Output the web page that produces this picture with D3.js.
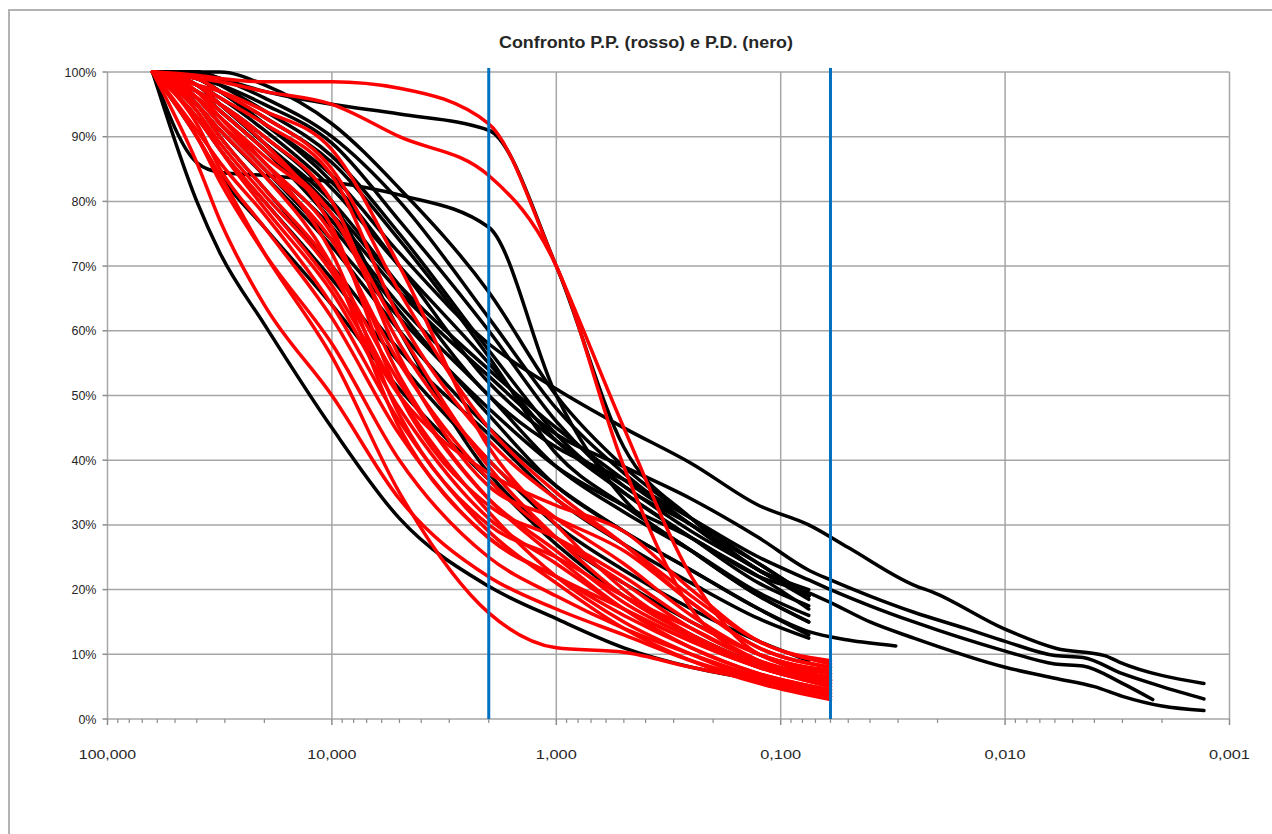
<!DOCTYPE html>
<html>
<head>
<meta charset="utf-8">
<script src="https://cdn.jsdelivr.net/npm/d3@7/dist/d3.min.js"></script>
<style>
  body { margin: 0; background: #fff; }
  svg text { font-family: "Liberation Sans", Arial, sans-serif; fill: #262626; }
</style>
</head>
<body>
<div id="chart"></div>
<script>
// setacci (mm) per P.D. (nero) e P.P. (rosso)
const blackSieves = [63, 40, 31.5, 20, 10, 5, 2, 1, 0.5, 0.25, 0.125, 0.075];
const redSieves = [63, 40, 31.5, 20, 10, 5, 2, 1, 0.5, 0.25, 0.125, 0.06];

// passante % P.D.
const blackCurves = [
  [100, 80, 72, 61, 45, 31, 20.5, 15.5, 11, 8, 6, 4.5],
  [100, 86, 84.5, 84, 83, 81, 76, 50, 34, 26, 19, 15],
  [100, 100, 99, 97, 95, 93.5, 91, 70, 42, 31, 23, 19],
  [100, 99, 97, 92, 84, 72, 58, 51, 45, 39.5, 33, 30],
  [100, 97, 94, 88, 78, 66, 53, 44, 39, 34, 28, 23],
  [100, 98, 95, 89, 80, 67, 50, 42, 37, 31, 25, 21.5],
  [100, 96, 92, 85, 74, 62, 48, 39, 33, 28, 22, 19.5],
  [100, 95, 91, 84, 73, 60, 45, 36, 29, 23, 17, 13.5],
  [100, 99, 98, 95, 89, 77, 60, 46, 36, 30, 23, 19],
  [100, 98, 96, 91, 82, 70, 55, 43, 35, 28, 21, 17.5],
  [100, 97, 94, 88, 77, 64, 50, 39, 32, 26, 19.5, 16],
  [100, 99, 97, 93, 86, 74, 56, 41, 33, 26, 19, 15],
  [100, 96, 93, 86, 76, 63, 47, 36, 29, 23, 17, 13],
  [100, 95, 90, 82, 70, 57, 44, 34, 27, 21, 15.5, 12.5],
  [100, 93, 88, 80, 68, 55, 40, 30, 23, 17, 12, 9],
  [100, 90, 84, 76, 64, 51, 37, 27, 19, 13, 8.5, 6.5],
  [100, 97, 95, 90, 80, 60, 38, 28, 21, 15, 10, 7],
  [100, 100, 99, 96, 90, 80, 62, 48, 38, 30, 23, 20],
  [100, 100, 100, 98, 92, 82, 66, 50, 39, 31, 24, 19],
  [100, 99, 97, 92, 83, 70, 52, 43, 36, 29, 23, 18.5],
  [100, 98, 95, 89, 79, 67, 54, 45, 37, 30, 24, 19],
  [100, 100, 98, 94, 87, 75, 57, 44, 35, 28, 22, 17]
];

// prosecuzione con sedimentazione (diametri mm / passante %)
const hydroDiam = [
  [0.05, 0.0255, 0.021, 0.0102, 0.0059, 0.0036, 0.0031, 0.0013],
  [0.06, 0.04, 0.0255, 0.015, 0.01, 0.006, 0.0045, 0.003, 0.002, 0.0013],
  [0.06, 0.04, 0.0255, 0.01, 0.006, 0.0045, 0.003, 0.0022],
  [0.06, 0.04, 0.0255, 0.01, 0.006, 0.004, 0.003, 0.002, 0.0013],
  [0.05, 0.0307]
];
const hydroPass = [
  [26.5, 20.7, 19.6, 14, 10.9, 9.8, 8.8, 5.5],
  [21.5, 19, 16.5, 14, 12, 9.8, 9.5, 7, 5, 3.1],
  [20, 17.5, 15, 10.5, 8.5, 8.2, 5.5, 3],
  [18, 15, 12.5, 8, 6.3, 5, 3.5, 2, 1.3],
  [12.2, 11.3]
];
const hydroOf = [3, 4, 5, 6, 7]; // indice della curva nera

// passante % P.P.
const redCurves = [
  [100, 99.5, 99, 98.5, 98.5, 97.5, 92, 70, 45, 22, 10, 7],
  [100, 99, 98.5, 97, 95, 90, 84, 70, 39, 17, 9, 6],
  [100, 90, 84, 72, 56, 35, 16.4, 11, 10.3, 8, 6, 4],
  [100, 98, 96, 92, 84, 62, 43, 34, 27, 19, 12, 8.5],
  [100, 97, 94, 88, 78, 58, 40, 31, 24, 16, 10, 7.5],
  [100, 96, 92, 85, 74, 55, 37, 28, 21, 14, 9, 6.5],
  [100, 95, 90, 82, 70, 52, 34, 26, 18, 12.5, 8, 5.5],
  [100, 94, 88, 79, 66, 48, 31, 24, 17, 12, 8, 5],
  [100, 92, 85, 76, 62, 44, 28, 22, 16, 11, 7, 4.5],
  [100, 90, 83, 72, 58, 40, 25, 19, 14, 10, 6.5, 4],
  [100, 86, 77, 64, 50, 34, 22, 17, 13, 9, 6, 3.5],
  [100, 97, 95, 90, 80, 56, 36, 31, 26, 18, 11, 8],
  [100, 98, 95, 89, 76, 50, 33, 28, 22, 15, 10, 7],
  [100, 96, 92, 86, 72, 47, 30, 25, 19, 14, 9, 6],
  [100, 95, 91, 84, 70, 45, 28, 22, 17, 12, 8, 5],
  [100, 93, 88, 80, 67, 50, 38, 33, 29, 20, 12, 9],
  [100, 99, 97, 93, 85, 66, 45, 35, 27, 18, 11, 8],
  [100, 98, 97, 94, 88, 70, 42, 30, 20, 13, 8, 5.5],
  [100, 97, 93, 86, 75, 53, 34, 25, 17, 11, 7, 4.5],
  [100, 94, 89, 81, 69, 50, 32, 22, 15, 10, 6, 3.5],
  [100, 91, 86, 78, 64, 46, 29, 21, 14, 9, 5.5, 3],
  [100, 96, 93, 87, 78, 60, 39, 28, 19, 13, 8.5, 6]
];

const limits = [2, 0.06];
const decades = [100, 10, 1, 0.1, 0.01, 0.001];
const decadeLabels = ["100,000", "10,000", "1,000", "0,100", "0,010", "0,001"];
const yTicks = [0, 10, 20, 30, 40, 50, 60, 70, 80, 90, 100];

const width = 1272, height = 834;
const plotLeft = 107.5, plotRight = 1229.5, plotTop = 72, plotBottom = 719;

const svg = d3.select("#chart").append("svg")
  .attr("width", width).attr("height", height);

svg.append("rect")
  .attr("x", 9).attr("y", 10)
  .attr("width", 1300).attr("height", 900)
  .attr("fill", "#fff").attr("stroke", "#b3b3b3").attr("stroke-width", 2);

let x = d3.scaleLog().domain([100, 0.001]).range([plotLeft, plotRight]);
let y = d3.scaleLinear().domain([0, 100]).range([plotBottom, plotTop]);

// griglia
svg.append("g").selectAll("line")
  .data(yTicks).enter().append("line")
  .attr("x1", plotLeft).attr("x2", plotRight)
  .attr("y1", d => y(d)).attr("y2", d => y(d))
  .attr("stroke", "#a6a6a6").attr("stroke-width", 1.5);

svg.append("g").selectAll("line")
  .data(decades).enter().append("line")
  .attr("x1", d => x(d)).attr("x2", d => x(d))
  .attr("y1", plotTop).attr("y2", plotBottom)
  .attr("stroke", "#a6a6a6").attr("stroke-width", 1.5);

// tacche asse x
let minor = [];
decades.slice(1).forEach(d => {
  for (let k = 2; k <= 9; k++) minor.push(d * k);
});
svg.append("g").selectAll("line")
  .data(minor).enter().append("line")
  .attr("x1", d => x(d)).attr("x2", d => x(d))
  .attr("y1", plotBottom).attr("y2", plotBottom + 4)
  .attr("stroke", "#8c8c8c").attr("stroke-width", 1.2);
svg.append("g").selectAll("line")
  .data(decades).enter().append("line")
  .attr("x1", d => x(d)).attr("x2", d => x(d))
  .attr("y1", plotBottom).attr("y2", plotBottom + 6)
  .attr("stroke", "#8c8c8c").attr("stroke-width", 1.5);

// tacche asse y
svg.append("g").selectAll("line")
  .data(yTicks).enter().append("line")
  .attr("x1", plotLeft - 5).attr("x2", plotLeft)
  .attr("y1", d => y(d)).attr("y2", d => y(d))
  .attr("stroke", "#8c8c8c").attr("stroke-width", 1.5);

svg.append("g").selectAll("text")
  .data(yTicks).enter().append("text")
  .attr("x", plotLeft - 11).attr("y", d => y(d) + 4.5)
  .attr("text-anchor", "end").attr("font-size", 12.5)
  .text(d => d + "%");

svg.append("g").selectAll("text")
  .data(decades).enter().append("text")
  .attr("x", d => x(d)).attr("y", plotBottom + 40)
  .attr("text-anchor", "middle").attr("font-size", 13)
  .attr("textLength", (d, i) => decadeLabels[i].length * 8.2)
  .attr("lengthAdjust", "spacingAndGlyphs")
  .text((d, i) => decadeLabels[i]);

let line = d3.line()
  .x(d => x(d[0]))
  .y(d => y(d[1]))
  .curve(d3.curveMonotoneX);

let plot = svg.append("g");

// P.D. neri
blackCurves.forEach((vals, i) => {
  let pts = blackSieves.map((s, j) => [s, vals[j]]);
  let h = hydroOf.indexOf(i);
  if (h >= 0) {
    hydroDiam[h].forEach((s, j) => pts.push([s, hydroPass[h][j]]));
  }
  plot.append("path")
    .attr("d", line(pts))
    .attr("fill", "none").attr("stroke", "#000")
    .attr("stroke-width", 3.5).attr("stroke-linecap", "round");
});

// P.P. rossi
redCurves.forEach(vals => {
  let pts = redSieves.map((s, j) => [s, vals[j]]);
  plot.append("path")
    .attr("d", line(pts))
    .attr("fill", "none").attr("stroke", "#ff0000")
    .attr("stroke-width", 3.5).attr("stroke-linecap", "round");
});

// limiti 2 mm e 0,06 mm
svg.append("g").selectAll("line")
  .data(limits).enter().append("line")
  .attr("x1", d => x(d)).attr("x2", d => x(d))
  .attr("y1", plotTop - 4).attr("y2", plotBottom)
  .attr("stroke", "#0070c0").attr("stroke-width", 3);

svg.append("text")
  .attr("x", 646).attr("y", 48)
  .attr("text-anchor", "middle")
  .attr("font-size", 16).attr("font-weight", "bold")
  .attr("textLength", 294).attr("lengthAdjust", "spacingAndGlyphs")
  .text("Confronto P.P. (rosso) e P.D. (nero)");
</script>
</body>
</html>
